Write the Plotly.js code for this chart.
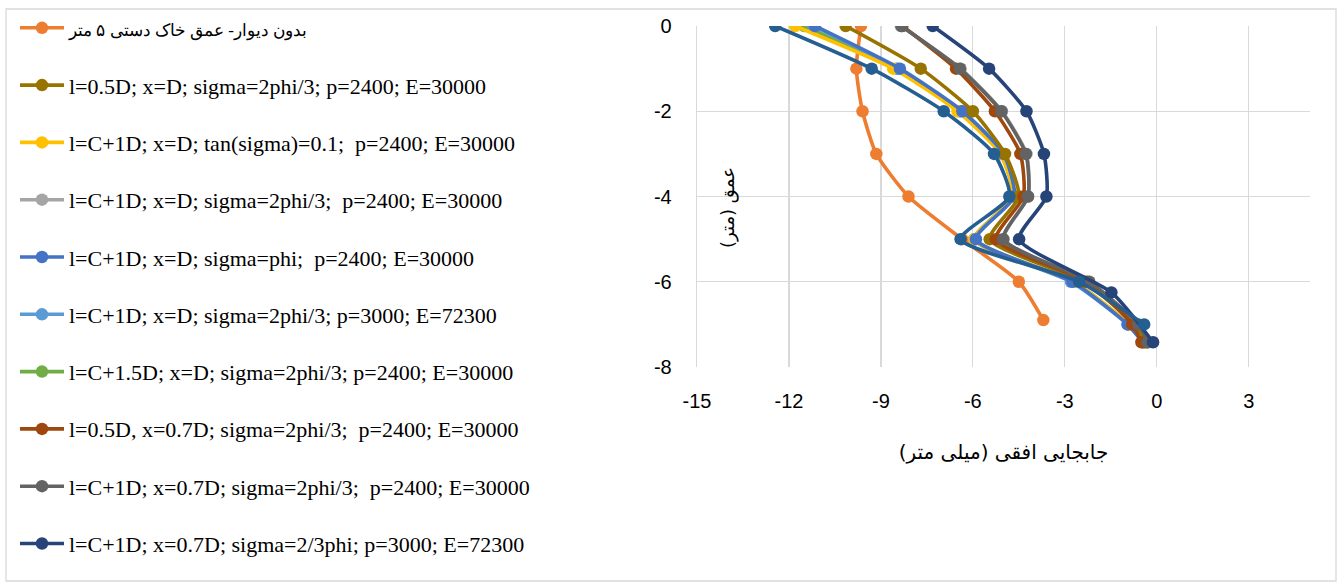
<!DOCTYPE html>
<html>
<head>
<meta charset="utf-8">
<script src="https://cdn.plot.ly/plotly-3.0.1.min.js"></script>
<style>
  html, body { margin: 0; padding: 0; background: #ffffff; }
  #chart { width: 1340px; height: 584px; }
</style>
</head>
<body>
<div id="chart"></div>
<script>
// ---- data (horizontal displacement in mm, depth in m) ----
const seriesNames = [
  "<span style=\"font-size:17px\">بدون دیوار- عمق خاک دستی ۵ متر</span>",
  "l=0.5D; x=D; sigma=2phi/3; p=2400; E=30000",
  "l=C+1D; x=D; tan(sigma)=0.1;  p=2400; E=30000",
  "l=C+1D; x=D; sigma=2phi/3;  p=2400; E=30000",
  "l=C+1D; x=D; sigma=phi;  p=2400; E=30000",
  "l=C+1D; x=D; sigma=2phi/3; p=3000; E=72300",
  "l=C+1.5D; x=D; sigma=2phi/3; p=2400; E=30000",
  "l=0.5D, x=0.7D; sigma=2phi/3;  p=2400; E=30000",
  "l=C+1D; x=0.7D; sigma=2phi/3;  p=2400; E=30000",
  "l=C+1D; x=0.7D; sigma=2/3phi; p=3000; E=72300",
  "series 11"
];
const seriesColors = ["#ED7D31","#997300","#FFC000","#A5A5A5","#4472C4","#5B9BD5","#70AD47","#9E480E","#636363","#264478","#255E91"];

const depthOrange = [0, -1, -2, -3, -4, -5, -6, -6.9];
const dispOrange  = [-9.65, -9.8, -9.6, -9.15, -8.1, -6.35, -4.5, -3.7];

const depthWall = [0, -1, -2, -3, -4, -5, -6, -7, -7.42];
const dispGold      = [-10.15, -7.7, -6.0, -4.95, -4.5, -5.45, -2.4, -0.7, -0.35];
const dispYellow    = [-11.8, -8.6, -6.5, -5.1, -4.7, -5.95, -2.7, -0.9, -0.4];
const dispGray      = [-8.35, -6.4, -5.05, -4.25, -4.2, -5.0, -2.25, -0.65, -0.3];
const dispBlue      = [-11.15, -8.38, -6.34, -5.0, -4.65, -5.9, -2.75, -0.95, -0.45];
const dispLightBlue = [-11.2, -8.45, -6.4, -5.05, -4.7, -5.95, -2.8, -0.95, -0.45];
const dispGreen     = [-11.5, -8.5, -6.45, -5.1, -4.7, -5.95, -2.7, -0.9, -0.4];
const dispBrown     = [-8.3, -6.55, -5.28, -4.45, -4.35, -5.25, -2.3, -0.8, -0.5];
const dispDarkGray  = [-8.33, -6.42, -5.07, -4.27, -4.2, -5.01, -2.2, -0.6, -0.3];

const depthNavy = [0, -1, -2, -3, -4, -5, -6.25, -7.42];
const dispNavy  = [-7.31, -5.47, -4.25, -3.68, -3.6, -4.49, -1.48, -0.12];

const depthTeal = [0, -1, -2, -3, -4, -5, -6, -7];
const dispTeal  = [-12.45, -9.3, -6.95, -5.31, -4.81, -6.4, -2.53, -0.41];

const xTicks = [-15, -12, -9, -6, -3, 0, 3];
const yTicks = [0, -2, -4, -6, -8];
const xTitle = "جابجایی افقی (میلی متر)";
const yTitle = "عمق (متر)";

const seriesX = [dispOrange, dispGold, dispYellow, dispGray, dispBlue, dispLightBlue, dispGreen, dispBrown, dispDarkGray, dispNavy, dispTeal];
const seriesY = [depthOrange, depthWall, depthWall, depthWall, depthWall, depthWall, depthWall, depthWall, depthWall, depthNavy, depthTeal];

// draw order (bottom to top) roughly as in the reference
const drawOrder = [0, 6, 3, 5, 2, 4, 1, 7, 8, 9, 10];

const traces = drawOrder.map(i => ({
  type: 'scatter',
  mode: 'lines+markers',
  name: seriesNames[i],
  x: seriesX[i],
  y: seriesY[i],
  line: { color: seriesColors[i], width: 3.6, shape: 'spline', smoothing: 0.6 },
  marker: { color: seriesColors[i], size: 12.5 },
  legendgroup: 'g' + i,
  legendrank: i + 1,
  showlegend: i < 10
}));

const plotL = 697, plotR = 1310, plotT = 26, plotB = 367;
const pw = plotR - plotL, ph = plotB - plotT;

const layout = {
  width: 1340, height: 584,
  margin: { l: plotL, r: 1340 - plotR, t: plotT, b: 584 - plotB, autoexpand: false },
  paper_bgcolor: '#ffffff',
  plot_bgcolor: '#ffffff',
  font: { family: 'Liberation Sans, Arial, sans-serif', size: 20, color: '#000000' },
  showlegend: true,
  legend: {
    x: (15 - plotL) / pw, xanchor: 'left',
    y: 1 + (plotT - 7) / ph, yanchor: 'top',
    font: { family: 'Liberation Serif, serif', size: 22, color: '#000000' },
    traceorder: 'grouped',
    tracegroupgap: 25.7,
    itemwidth: 44,
    maxheight: 580,
    bgcolor: 'rgba(0,0,0,0)'
  },
  xaxis: {
    range: [-15, 5],
    tickvals: xTicks,
    ticktext: xTicks.map(String),
    showgrid: true, gridcolor: '#D9D9D9', gridwidth: 1.3,
    zeroline: false, showline: false,
    ticks: 'outside', ticklen: 16, tickcolor: 'rgba(0,0,0,0)',
    tickfont: { size: 20, family: 'Liberation Sans, Arial, sans-serif' },
    title: { text: xTitle, font: { size: 20, family: 'DejaVu Sans, sans-serif' }, standoff: 33 },
    fixedrange: true
  },
  yaxis: {
    range: [-8, 0],
    tickvals: yTicks,
    ticktext: yTicks.map(String),
    showgrid: true, gridcolor: '#D9D9D9', gridwidth: 1.3,
    zeroline: false, showline: true, linecolor: '#D9D9D9', linewidth: 1.3,
    ticks: 'outside', ticklen: 20, tickcolor: 'rgba(0,0,0,0)',
    tickfont: { size: 20, family: 'Liberation Sans, Arial, sans-serif' },
    fixedrange: true
  },
  annotations: [{
    text: yTitle, textangle: -90,
    xref: 'paper', yref: 'paper',
    x: (728 - plotL) / pw, y: 1 - (208 - plotT) / ph,
    xanchor: 'center', yanchor: 'middle',
    showarrow: false,
    font: { size: 18, family: 'DejaVu Sans, sans-serif', color: '#000000' }
  }],
  shapes: [{
    type: 'rect', xref: 'paper', yref: 'paper',
    x0: (6 - plotL) / pw, x1: (1336 - plotL) / pw,
    y0: 1 - (581 - plotT) / ph, y1: 1 - (9 - plotT) / ph,
    line: { color: '#D9D9D9', width: 1.3 }, fillcolor: 'rgba(0,0,0,0)', layer: 'below'
  }]
};

Plotly.newPlot('chart', traces, layout, { displayModeBar: false, staticPlot: true });
</script>
</body>
</html>
